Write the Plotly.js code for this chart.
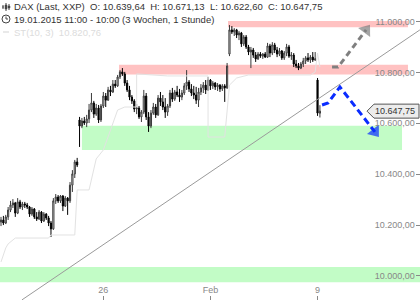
<!DOCTYPE html>
<html><head><meta charset="utf-8">
<script src="https://cdn.plot.ly/plotly-3.0.1.min.js"></script>
<style>html,body{margin:0;padding:0;background:#fff}#chart{width:420px;height:300px}</style>
</head><body><div id="chart"></div>
<script>
// Hourly DAX bars, 19.01.2015 11:00 – 09.02.2015 10:00
const openP = [10212,10220,10208,10232,10259,10279,10287,10247,10291,10271,10283,10279,10271,10243,10263,10232,10224,10251,10216,10243,10228,10208,10185,10295,10310,10295,10314,10275,10306,10295,10357,10401,10448,10613,10589,10609,10601,10617,10652,10680,10636,10660,10613,10668,10707,10691,10731,10723,10754,10747,10782,10802,10794,10758,10731,10703,10688,10656,10660,10625,10644,10707,10625,10589,10640,10664,10633,10699,10684,10664,10644,10668,10719,10695,10723,10711,10703,10719,10747,10762,10735,10719,10711,10691,10723,10739,10750,10731,10770,10747,10758,10743,10750,10735,10747,10739,10872,10967,10959,10967,10947,10955,10912,10939,10900,10880,10888,10868,10853,10872,10864,10872,10860,10904,10876,10908,10888,10872,10884,10857,10876,10900,10864,10868,10833,10825,10817,10833,10845,10857,10849,10860,10849,10770,10639.64];
const highP = [10232,10236,10240,10271,10295,10302,10291,10306,10299,10291,10291,10287,10275,10271,10267,10251,10259,10255,10251,10247,10236,10216,10306,10322,10318,10318,10318,10314,10310,10369,10416,10456,10464,10625,10621,10625,10633,10676,10719,10688,10676,10672,10676,10723,10719,10743,10747,10770,10770,10790,10809,10817,10802,10770,10747,10711,10695,10676,10668,10652,10731,10719,10644,10652,10680,10676,10711,10723,10711,10699,10676,10731,10739,10731,10747,10735,10731,10758,10809,10770,10754,10747,10743,10739,10754,10762,10770,10782,10774,10766,10762,10758,10754,10754,10754,10837,10986,10982,10974,10971,10963,10959,10947,10947,10908,10900,10896,10880,10880,10880,10876,10880,10916,10912,10919,10916,10900,10896,10888,10884,10912,10908,10880,10876,10849,10837,10841,10857,10864,10876,10868,10880,10880,10778,10671.13];
const lowP = [10196,10200,10204,10220,10251,10267,10232,10243,10263,10259,10267,10263,10232,10236,10224,10216,10220,10208,10212,10220,10196,10153,10181,10283,10287,10287,10255,10271,10240,10287,10330,10385,10428,10507,10581,10593,10585,10601,10644,10621,10629,10601,10605,10660,10664,10688,10707,10719,10739,10743,10774,10786,10747,10723,10691,10676,10644,10636,10617,10605,10636,10613,10566,10581,10633,10621,10629,10668,10652,10621,10629,10660,10684,10688,10703,10684,10691,10711,10731,10723,10707,10695,10676,10664,10711,10719,10715,10727,10731,10735,10731,10727,10723,10727,10684,10735,10864,10951,10943,10935,10927,10900,10904,10892,10868,10817,10857,10841,10849,10857,10853,10857,10857,10860,10868,10876,10860,10864,10849,10849,10864,10857,10849,10821,10817,10809,10813,10821,10833,10841,10837,10841,10845,10629,10622.60];
const closeP = [10220,10208,10232,10259,10279,10287,10247,10291,10271,10283,10279,10271,10243,10263,10232,10224,10251,10216,10243,10228,10208,10185,10295,10310,10295,10314,10275,10306,10295,10357,10401,10448,10436,10589,10609,10601,10617,10652,10680,10636,10660,10613,10668,10707,10691,10731,10723,10754,10747,10782,10802,10794,10758,10731,10703,10688,10656,10660,10625,10644,10707,10625,10589,10640,10664,10633,10699,10684,10664,10644,10668,10719,10695,10723,10711,10703,10719,10747,10762,10735,10719,10711,10691,10723,10739,10750,10731,10770,10747,10758,10743,10750,10735,10747,10739,10825,10967,10959,10967,10947,10955,10912,10939,10900,10880,10888,10868,10853,10872,10864,10872,10860,10904,10876,10908,10888,10872,10884,10857,10876,10900,10864,10868,10833,10825,10817,10833,10845,10857,10849,10860,10849,10853,10640,10647.75];

const dayTickBars = [43, 88, 133];
const dayTickLabels = ["26", "Feb", "9"];
const priceTicks = [10000, 10200, 10400, 10600, 10800, 11000];

// Supertrend ST(10, 3)
const stBars = [0,1,2,3,4,6,20,21,31,32,33,37,40,43,46,49,52,57,57,70,87,87,94,95,96,99,104,130,132,133,134];
const stVals = [10055,10082,10110,10126,10134,10149,10149,10161,10161,10338,10338,10338,10460,10495,10573,10652,10664,10664,10794,10786,10786,10546,10546,10640,10750,10778,10790,10790,10802,10876,10820.76];

// trend line and drawn zones
const trendBars = [8.8, 176];
const trendVals = [9906, 10967];
const zoneLow   = [10977, 10792, 10495, 9975];
const zoneHigh  = [11002, 10830, 10590, 10035];
const zoneStart = [95.4, 49.6, 34, -5];
const zoneEnd   = [171, 171, 168.5, 180];
const zoneType  = ["resistance", "resistance", "support", "support"];

// scenario arrows
const upArrowBars = [139.1, 141.6, 153.4];
const upArrowVals = [10821, 10821, 10967];
const downArrowBars = [134.9, 137.4, 142.4, 157.1];
const downArrowVals = [10672, 10680, 10743, 10566];

const n = closeP.length;
const barIdx = closeP.map((_, i) => i);
function de(v) {
  const parts = v.toFixed(2).split('.');
  return parts[0].replace(/\B(?=(\d{3})+(?!\d))/g, '.') + ',' + parts[1];
}
const last = n - 1;

const traces = [
  {type:'scatter', mode:'lines', x:trendBars, y:trendVals, line:{color:'#9a9a9a', width:1}, hoverinfo:'skip'},
  {type:'scatter', mode:'lines', x:stBars, y:stVals, line:{color:'#e2e2e2', width:1}, hoverinfo:'skip'},
  {type:'candlestick', x:barIdx, open:openP, high:highP, low:lowP, close:closeP,
   increasing:{line:{color:'#3a3a3a', width:1}, fillcolor:'#ffffff'},
   decreasing:{line:{color:'#000000', width:1}, fillcolor:'#000000'},
   whiskerwidth:0, hoverinfo:'skip'},
  {type:'scatter', mode:'lines+markers', x:upArrowBars, y:upArrowVals,
   line:{color:'#7f7f7f', width:3, dash:'6px,4px'},
   marker:{symbol:'triangle-up', size:upArrowBars.map((_, i) => i === upArrowBars.length-1 ? 13 : 0), color:'#7f7f7f', angleref:'previous', line:{width:0}}, hoverinfo:'skip'},
  {type:'scatter', mode:'lines+markers', x:downArrowBars, y:downArrowVals,
   line:{color:'#0a2cff', width:3, dash:'7px,4px'},
   marker:{symbol:'triangle-up', size:downArrowBars.map((_, i) => i === downArrowBars.length-1 ? 13 : 0), color:'#0a2cff', angleref:'previous', line:{width:0}}, hoverinfo:'skip'}
];

const shapes = zoneLow.map((lo, i) => ({
  type:'rect', xref:'x', yref:'y', x0:zoneStart[i], x1:zoneEnd[i], y0:lo, y1:zoneHigh[i],
  fillcolor: zoneType[i] === 'resistance' ? '#ffc2c2' : '#c2fcc6', line:{width:0}, layer:'below'
}));
// price tag
shapes.push({type:'path', xref:'paper', yref:'y', xsizemode:'pixel', ysizemode:'pixel', xanchor:1, yanchor:closeP[last],
  path:'M-53,0 L-46,7 L-1,7 L-1,-7 L-46,-7 Z', fillcolor:'#ececec', line:{color:'#555', width:1}});
// legend icons (pixel positions in paper fractions)
const px = x => x/420, py = y => 1 - y/300;
[[3,5,9],[6,3,11],[9,4,10]].forEach(([x,t,b]) => {
  shapes.push({type:'line', xref:'paper', yref:'paper', x0:px(x), x1:px(x), y0:py(t), y1:py(b), line:{color:'#444', width:1}});
  shapes.push({type:'rect', xref:'paper', yref:'paper', x0:px(x-1), x1:px(x+1), y0:py(t+2), y1:py(b-2), fillcolor:'#444', line:{color:'#444', width:0.5}});
});
shapes.push({type:'circle', xref:'paper', yref:'paper', x0:px(2), x1:px(10), y0:py(15), y1:py(23), line:{color:'#444', width:1}});
shapes.push({type:'path', xref:'paper', yref:'paper', path:`M${px(6)},${py(16.5)} L${px(6)},${py(19)} L${px(8)},${py(19)}`, line:{color:'#444', width:1}});
shapes.push({type:'line', xref:'paper', yref:'paper', x0:px(3), x1:px(9), y0:py(32), y1:py(32), line:{color:'#e2e2e2', width:1.5}});

const line1 = `DAX (Last, XXP)  O: ${de(openP[last])}  H: ${de(highP[last])}  L: ${de(lowP[last])}  C: ${de(closeP[last])}`;
const annotations = [
  {xref:'paper', yref:'paper', x:px(12), y:py(7), xanchor:'left', yanchor:'middle', text:line1, showarrow:false, font:{size:9.5, color:'#333'}},
  {xref:'paper', yref:'paper', x:px(12), y:py(19.5), xanchor:'left', yanchor:'middle', text:'19.01.2015 11:00 - 10:00 (3 Wochen, 1 Stunde)', showarrow:false, font:{size:9.5, color:'#333'}},
  {xref:'paper', yref:'paper', x:px(12), y:py(32), xanchor:'left', yanchor:'middle', text:`ST(10, 3)  ${de(stVals[stVals.length-1])}`, showarrow:false, font:{size:9.5, color:'#dcdcdc'}},
  {xref:'paper', yref:'y', x:1, y:closeP[last], xanchor:'right', yanchor:'middle', xshift:-3, text:de(closeP[last]), showarrow:false, font:{size:9, color:'#333'}}
];

const layout = {
  width:420, height:300, margin:{l:0, r:0, t:0, b:0}, paper_bgcolor:'#fff', plot_bgcolor:'#fff',
  separators:',.', showlegend:false, dragmode:false,
  font:{family:'"Liberation Sans", Arial, sans-serif', size:9, color:'#888'},
  xaxis:{type:'linear', range:[-0.42, 176.05], tickvals:dayTickBars, ticktext:dayTickLabels,
    ticks:'inside', ticklen:4, tickcolor:'#888', ticklabelposition:'inside', showgrid:false, zeroline:false,
    showline:false, rangeslider:{visible:false}, tickfont:{size:9, color:'#888'}, fixedrange:true},
  yaxis:{side:'right', range:[9905.5, 11084.5], tickvals:priceTicks, tickformat:',.2f',
    ticks:'inside', ticklen:4, tickcolor:'#888', ticklabelposition:'inside', showgrid:false, zeroline:false,
    showline:false, tickfont:{size:9, color:'#888'}, fixedrange:true},
  shapes, annotations
};
Plotly.newPlot('chart', traces, layout, {displayModeBar:false, staticPlot:true});
</script></body></html>
